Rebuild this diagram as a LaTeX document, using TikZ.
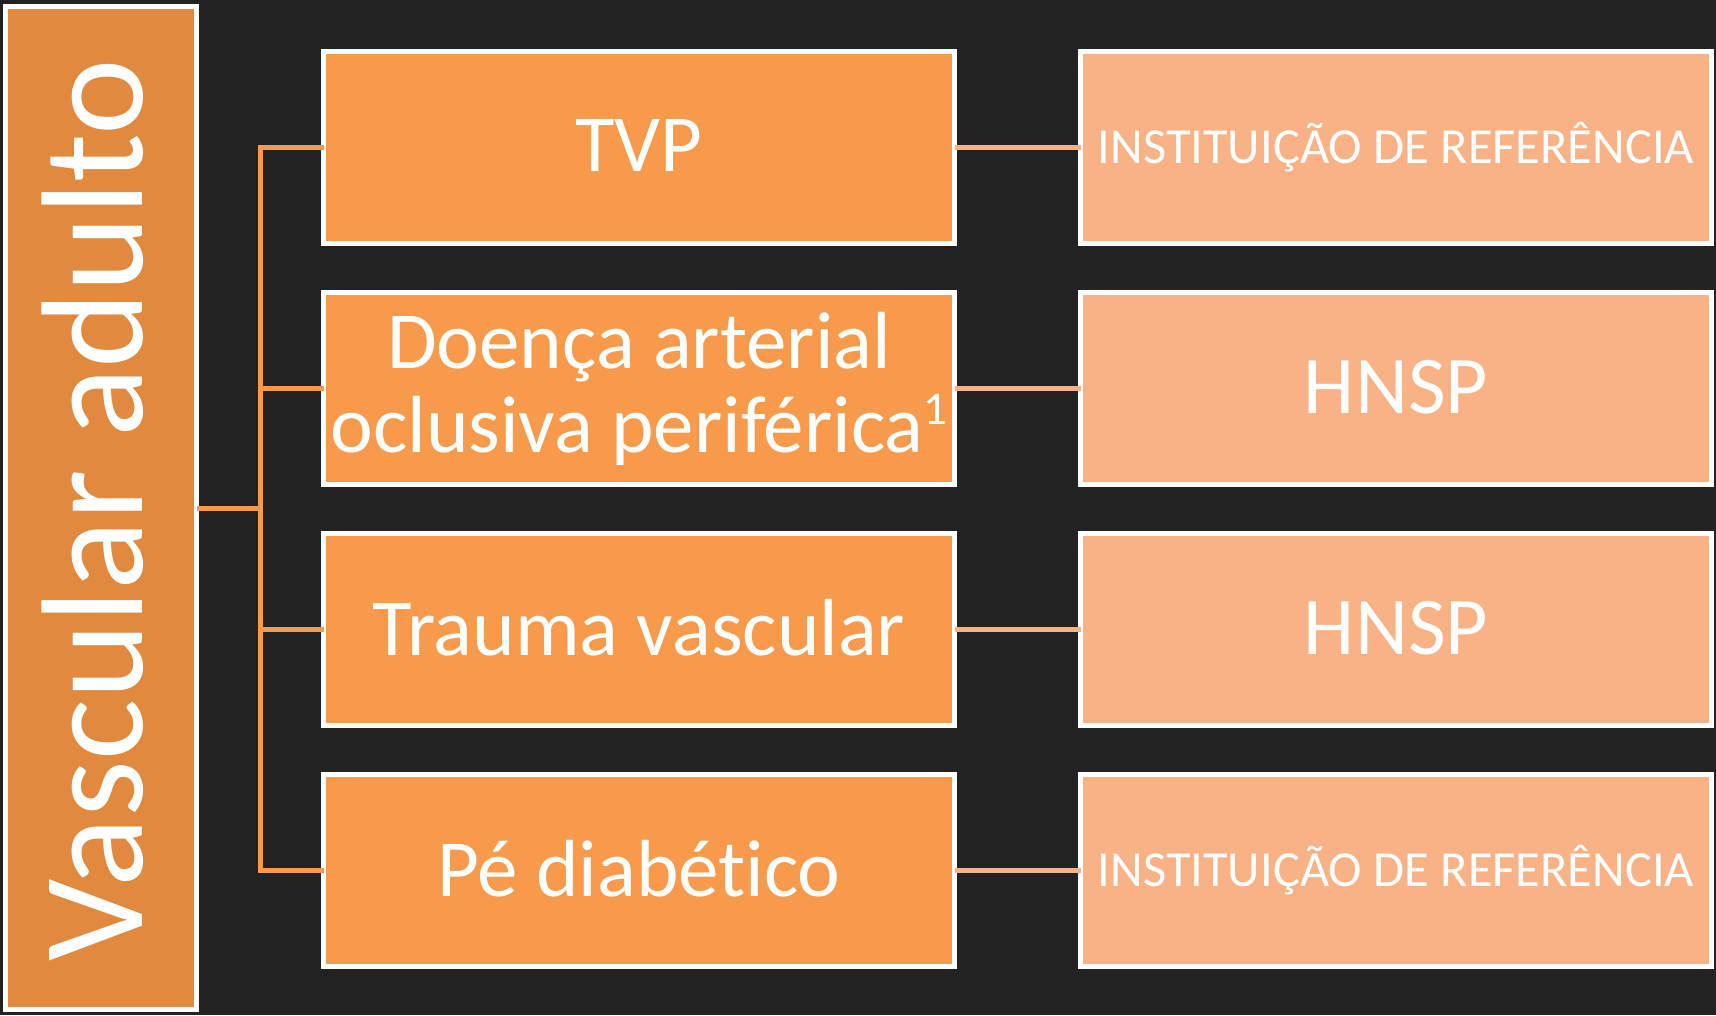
\documentclass[tikz,border=0pt]{standalone}
\usepackage{fontspec}
\setmainfont{Carlito}[Ligatures={NoCommon}]
\definecolor{bgc}{HTML}{222222}
\definecolor{leftc}{HTML}{E0893F}
\definecolor{midc}{HTML}{F79A4B}
\definecolor{rightc}{HTML}{F9B186}
\begin{document}
\begin{tikzpicture}[x=1pt,y=-1pt,
  boxbase/.style={draw=white, line width=5pt, inner sep=0pt, outer sep=0pt, text=white, align=center},
  midbox/.style={boxbase, fill=midc, minimum width=631pt, minimum height=192pt, font=\fontsize{81}{84}\selectfont},
  rightbox/.style={boxbase, fill=rightc, minimum width=631pt, minimum height=192pt},
  bigtxt/.style={font=\fontsize{82}{84}\selectfont},
  smalltxt/.style={font=\fontsize{50.5}{56}\selectfont},
  connA/.style={draw=midc, line width=5pt},
  connB/.style={draw=rightc, line width=4.5pt}]
\useasboundingbox (0,0) rectangle (1716,1015);
\fill[bgc] (0,0) rectangle (1716,1015);
% left box
\node[boxbase, fill=leftc, minimum width=191pt, minimum height=1003pt] (L) at (101,508) {};
\node[text=white, rotate=90, anchor=base, inner sep=0pt, font=\fontsize{145}{150}\selectfont] (LT) at (142,510) {Vascular adulto};
% middle boxes
\node[midbox] (M1) at (639,147.5) {\raisebox{3pt}{TVP}};
\node[midbox] (M2) at (639,388.5) {Doença arterial\\oclusiva periférica\raisebox{0.34em}{\fontsize{47}{47}\selectfont 1}};
\node[midbox] (M3) at (639,629.5) {\raisebox{4pt}{Trauma vascular}};
\node[midbox] (M4) at (639,870.5) {\raisebox{4pt}{Pé diabético}};
% right boxes
\node[rightbox, smalltxt] (R1) at (1396,147.5) {INSTITUIÇÃO DE REFERÊNCIA};
\node[rightbox, bigtxt] (R2) at (1396,388.5) {\raisebox{3pt}{HNSP}};
\node[rightbox, bigtxt] (R3) at (1396,629.5) {\raisebox{3pt}{HNSP}};
\node[rightbox, smalltxt] (R4) at (1396,870.5) {INSTITUIÇÃO DE REFERÊNCIA};
% connectors
\coordinate (bus) at (260,508);
\draw[connA] (L.east |- bus) -- (bus);
\draw[connA, line cap=rect] (bus |- M1.west) -- (bus |- M4.west);
\foreach \i in {1,2,3,4}{
  \draw[connA] (bus |- M\i.west) -- (M\i.west);
  \draw[connB] (M\i.east) -- (R\i.west);
}
\end{tikzpicture}
\end{document}
